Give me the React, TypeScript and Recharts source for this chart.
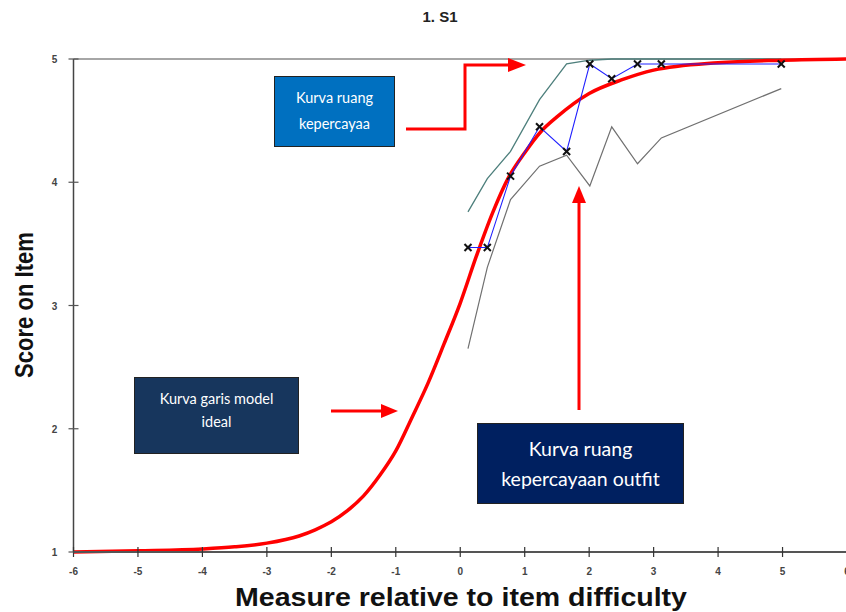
import React from 'react';
import { LineChart, Line, XAxis, YAxis, ReferenceLine } from 'recharts';

// Ideal model curve (expected score)
const modelX = [-6, -5, -4, -3.5, -3, -2.5, -2.25, -2, -1.75, -1.5, -1.25, -1, -0.75, -0.5, -0.25, 0, 0.25, 0.5, 0.75, 1, 1.25, 1.5, 2, 2.5, 3, 4, 5, 6];
const modelY = [1.0, 1.01, 1.025, 1.042, 1.072, 1.13, 1.18, 1.245, 1.335, 1.455, 1.62, 1.82, 2.09, 2.37, 2.69, 3.02, 3.4, 3.75, 4.04, 4.24, 4.41, 4.53, 4.72, 4.83, 4.91, 4.97, 4.99, 5.0];

// Empirical observed points
const obsX = [0.12, 0.42, 0.78, 1.23, 1.65, 2.01, 2.35, 2.75, 3.12, 4.98];
const obsY = [3.47, 3.47, 4.05, 4.45, 4.25, 4.96, 4.84, 4.96, 4.96, 4.96];
// Confidence band
const upperY = [3.76, 4.03, 4.25, 4.67, 4.96, 4.99, 5.0, 5.0, 5.0, 5.0];
const lowerY = [2.65, 3.31, 3.86, 4.13, 4.22, 3.97, 4.45, 4.15, 4.36, 4.76];

const xTicks = [-6, -5, -4, -3, -2, -1, 0, 1, 2, 3, 4, 5, 6];
const yTicks = [1, 2, 3, 4, 5];

const title = '1. S1';
const xLabel = 'Measure relative to item difficulty';
const yLabel = 'Score on Item';

const modelData = modelX.map((x, i) => ({ x, y: modelY[i] }));
const obsData = obsX.map((x, i) => ({ x, y: obsY[i] }));
const upperData = obsX.map((x, i) => ({ x, y: upperY[i] }));
const lowerData = obsX.map((x, i) => ({ x, y: lowerY[i] }));

const XTick = (props: any) => {
  const { x, y, payload } = props;
  return (
    <g>
      <line x1={x} x2={x} y1={y - 5} y2={y + 5} stroke="#333" strokeWidth={1.2} />
      <text x={x} y={y + 23} textAnchor="middle" fontSize={10} fontWeight="bold" fill="#444" fontFamily="Liberation Sans, Arial, sans-serif">
        {payload.value}
      </text>
    </g>
  );
};

const YTick = (props: any) => {
  const { x, y, payload } = props;
  return (
    <g>
      <line x1={x - 5} x2={x + 5} y1={y} y2={y} stroke="#555" strokeWidth={1.2} />
      <text x={x - 19} y={y + 4} textAnchor="middle" fontSize={10} fontWeight="bold" fill="#444" fontFamily="Liberation Sans, Arial, sans-serif">
        {payload.value}
      </text>
    </g>
  );
};

const Cross = (props: any) => {
  const { cx, cy } = props;
  if (cx == null || cy == null) return null;
  const s = 3.5;
  return (
    <g>
      <line x1={cx - s} y1={cy - s} x2={cx + s} y2={cy + s} stroke="#111" strokeWidth={2} />
      <line x1={cx - s} y1={cy + s} x2={cx + s} y2={cy - s} stroke="#111" strokeWidth={2} />
    </g>
  );
};

const boxText: React.CSSProperties = {
  position: 'absolute',
  color: '#fff',
  fontFamily: 'Lato, "Noto Sans", sans-serif',
  textAlign: 'center',
  boxSizing: 'border-box',
  border: '1.5px solid #222',
  display: 'flex',
  flexDirection: 'column',
  alignItems: 'center',
  whiteSpace: 'nowrap',
};

export default function App() {
  return (
    <div style={{ position: 'absolute', left: 0, top: 0, width: 846, height: 612, overflow: 'hidden', background: '#fff' }}>
      <LineChart width={850} height={612} margin={{ top: 59, right: 3, bottom: 20, left: 33.5 }}>
        <XAxis
          type="number"
          dataKey="x"
          domain={[-6, 6]}
          ticks={xTicks}
          allowDuplicatedCategory={false}
          height={40}
          tickSize={0}
          tickMargin={0}
          tickLine={false}
          axisLine={{ stroke: '#555', strokeWidth: 2 }}
          tick={<XTick />}
          interval={0}
        />
        <YAxis
          type="number"
          domain={[1, 5]}
          ticks={yTicks}
          width={40}
          tickSize={0}
          tickMargin={0}
          tickLine={false}
          axisLine={{ stroke: '#444', strokeWidth: 1.5 }}
          tick={<YTick />}
          interval={0}
        />
        <ReferenceLine y={5} stroke="#888" strokeWidth={1.5} ifOverflow="visible" />
        <Line data={lowerData} dataKey="y" type="linear" stroke="#707070" strokeWidth={1.2} dot={false} isAnimationActive={false} />
        <Line data={upperData} dataKey="y" type="linear" stroke="#4d7f7c" strokeWidth={1.3} dot={false} isAnimationActive={false} />
        <Line data={modelData} dataKey="y" type="monotone" stroke="#ff0000" strokeWidth={3.5} dot={false} isAnimationActive={false} />
        <Line data={obsData} dataKey="y" type="linear" stroke="#2020ff" strokeWidth={1.1} dot={<Cross />} isAnimationActive={false} />
      </LineChart>

      {/* Titles */}
      <svg width={846} height={612} style={{ position: 'absolute', left: 0, top: 0, pointerEvents: 'none' }}>
        <text x={440} y={22} textAnchor="middle" fontFamily="Liberation Sans, Arial, sans-serif" fontWeight="bold" fontSize={15} fill="#222">
          {title}
        </text>
        <text x={461} y={606} textAnchor="middle" textLength={452} lengthAdjust="spacingAndGlyphs" fontFamily="Liberation Sans, Arial, sans-serif" fontWeight="bold" fontSize={25} fill="#111">
          {xLabel}
        </text>
        <text x={33} y={305} transform="rotate(-90 33 305)" textAnchor="middle" textLength={146} lengthAdjust="spacingAndGlyphs" fontFamily="Liberation Sans, Arial, sans-serif" fontWeight="bold" fontSize={26} fill="#111">
          {yLabel}
        </text>
      </svg>

      {/* Annotation boxes */}
      <div style={{ ...boxText, left: 274, top: 76, width: 121, height: 71, background: '#0070c0', fontSize: 14.5, lineHeight: '26px', paddingTop: 8 }}>
        <span>Kurva ruang</span>
        <span>kepercayaa</span>
      </div>
      <div style={{ ...boxText, left: 134, top: 377, width: 165, height: 77, background: '#17365d', fontSize: 14.5, lineHeight: '23px', paddingTop: 9 }}>
        <span>Kurva garis model</span>
        <span>ideal</span>
      </div>
      <div style={{ ...boxText, left: 477, top: 423, width: 207, height: 81, background: '#002060', fontSize: 19.5, lineHeight: '30px', paddingTop: 10 }}>
        <span>Kurva ruang</span>
        <span>kepercayaan outfit</span>
      </div>

      {/* Arrows */}
      <svg width={846} height={612} style={{ position: 'absolute', left: 0, top: 0, pointerEvents: 'none' }}>
        <polyline points="406,129 465,129 465,65 510,65" fill="none" stroke="#ff0000" strokeWidth={3} />
        <polygon points="526,65 508,58 508,72" fill="#ff0000" />
        <line x1={331} y1={411} x2={383} y2={411} stroke="#ff0000" strokeWidth={3} />
        <polygon points="398,411 381,404 381,418" fill="#ff0000" />
        <line x1={579} y1={410} x2={579} y2={200} stroke="#ff0000" strokeWidth={3} />
        <polygon points="579,186 572,203 586,203" fill="#ff0000" />
      </svg>
    </div>
  );
}
